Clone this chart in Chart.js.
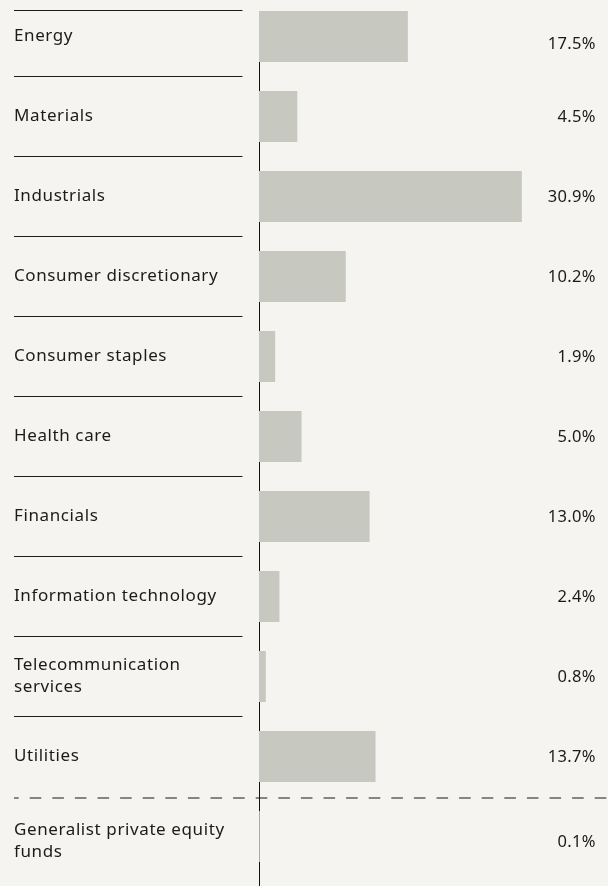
<!DOCTYPE html>
<html>
<head>
<meta charset="utf-8">
<script src="https://cdn.jsdelivr.net/npm/chart.js@4/dist/chart.umd.min.js"></script>
<style>
  html, body { margin: 0; padding: 0; background: #f5f4f0; }
  #wrap { position: relative; width: 608px; height: 886px; overflow: hidden; }
  canvas { display: block; }
</style>
</head>
<body>
<div id="wrap"><canvas id="chart" width="608" height="886"></canvas></div>
<script>
// Portfolio weights by sector
const sectors = [
  'Energy',
  'Materials',
  'Industrials',
  'Consumer discretionary',
  'Consumer staples',
  'Health care',
  'Financials',
  'Information technology',
  ['Telecommunication', 'services'],
  'Utilities',
  ['Generalist private equity', 'funds']
];
const weights = [17.5, 4.5, 30.9, 10.2, 1.9, 5.0, 13.0, 2.4, 0.8, 13.7, 0.1];
// Sector holdings vs. generalist funds (a dashed rule separates groups)
const groups = ['sector', 'sector', 'sector', 'sector', 'sector', 'sector',
                'sector', 'sector', 'sector', 'sector', 'fund'];
const weightLabels = weights.map(v => v.toFixed(1) + '%');

const INK = '#1b1b1b';
const BAR = '#c7c8c0';
const TEXT_LEFT = 14;
const RULE_RIGHT = 242.5;
const VALUE_RIGHT = 595.5;
const LINE_H = 22;

const ledger = {
  id: 'ledger',
  beforeDatasetsDraw(chart) {
    const { ctx, scales: { y }, chartArea } = chart;
    const n = sectors.length;
    const bars = chart.getDatasetMeta(0).data;
    const barTop = bars[0].y - bars[0].height / 2;
    const boundary = i => (y.getPixelForValue(i) + y.getPixelForValue(i + 1)) / 2;
    ctx.save();
    // top rule above the first row
    ctx.strokeStyle = INK;
    ctx.lineWidth = 1;
    ctx.beginPath();
    ctx.moveTo(TEXT_LEFT, barTop - 0.5);
    ctx.lineTo(RULE_RIGHT, barTop - 0.5);
    ctx.stroke();
    for (let i = 0; i < n - 1; i++) {
      const yy = boundary(i);
      ctx.beginPath();
      if (groups[i] !== groups[i + 1]) {
        ctx.strokeStyle = '#858585';
        ctx.lineWidth = 2;
        ctx.setLineDash([11.6, 11.0]);
        ctx.lineDashOffset = 6.9;
        ctx.moveTo(TEXT_LEFT, yy + 1.5);
        ctx.lineTo(chart.width, yy + 1.5);
      } else {
        ctx.strokeStyle = INK;
        ctx.lineWidth = 1;
        ctx.setLineDash([]);
        ctx.moveTo(TEXT_LEFT, yy);
        ctx.lineTo(RULE_RIGHT, yy);
      }
      ctx.stroke();
    }
    // value axis (bars are painted over it)
    ctx.setLineDash([]);
    ctx.strokeStyle = '#111111';
    ctx.lineWidth = 1;
    ctx.beginPath();
    ctx.moveTo(chartArea.left + 0.5, barTop);
    ctx.lineTo(chartArea.left + 0.5, chart.height);
    ctx.stroke();
    ctx.restore();
  },
  afterDatasetsDraw(chart) {
    const { ctx, scales: { y } } = chart;
    const n = sectors.length;
    const bars = chart.getDatasetMeta(0).data;
    const barTop = bars[0].y - bars[0].height / 2;
    const half = (y.getPixelForValue(1) - y.getPixelForValue(0)) / 2;
    const boundary = i => (y.getPixelForValue(i) + y.getPixelForValue(i + 1)) / 2;
    ctx.save();
    ctx.fillStyle = INK;
    ctx.textBaseline = 'middle';
    for (let i = 0; i < n; i++) {
      const bottom = i === n - 1 ? chart.height : boundary(i);
      const nameTop = i === 0 ? y.getPixelForValue(0) - half : boundary(i - 1);
      const valueTop = i === 0 ? barTop - 0.5 : boundary(i - 1);
      // category name
      const lines = Array.isArray(sectors[i]) ? sectors[i] : [sectors[i]];
      const cy = (nameTop + bottom) / 2;
      ctx.font = '17px "Noto Sans"';
      ctx.textAlign = 'left';
      ctx.letterSpacing = '0.6px';
      lines.forEach((t, k) => {
        ctx.fillText(t, TEXT_LEFT, cy + (k - (lines.length - 1) / 2) * LINE_H);
      });
      // weight
      ctx.font = '16.5px "Noto Sans"';
      ctx.textAlign = 'right';
      ctx.letterSpacing = '0.3px';
      ctx.fillText(weightLabels[i], VALUE_RIGHT + 0.3, (valueTop + bottom) / 2 + 1);
    }
    ctx.restore();
  }
};

new Chart(document.getElementById('chart'), {
  type: 'bar',
  data: {
    labels: sectors,
    datasets: [{
      data: weights,
      backgroundColor: BAR,
      borderWidth: 0,
      categoryPercentage: 1,
      barPercentage: 0.6375,
      clip: false
    }]
  },
  options: {
    indexAxis: 'y',
    responsive: false,
    animation: false,
    devicePixelRatio: 1,
    layout: { padding: { left: 259, right: 13, top: 36.5, bottom: 49.5 } },
    plugins: { legend: { display: false }, tooltip: { enabled: false } },
    scales: {
      x: { type: 'linear', min: 0, max: 39.5, display: false },
      y: { type: 'category', offset: false, display: false }
    }
  },
  plugins: [ledger]
});
</script>
</body>
</html>
